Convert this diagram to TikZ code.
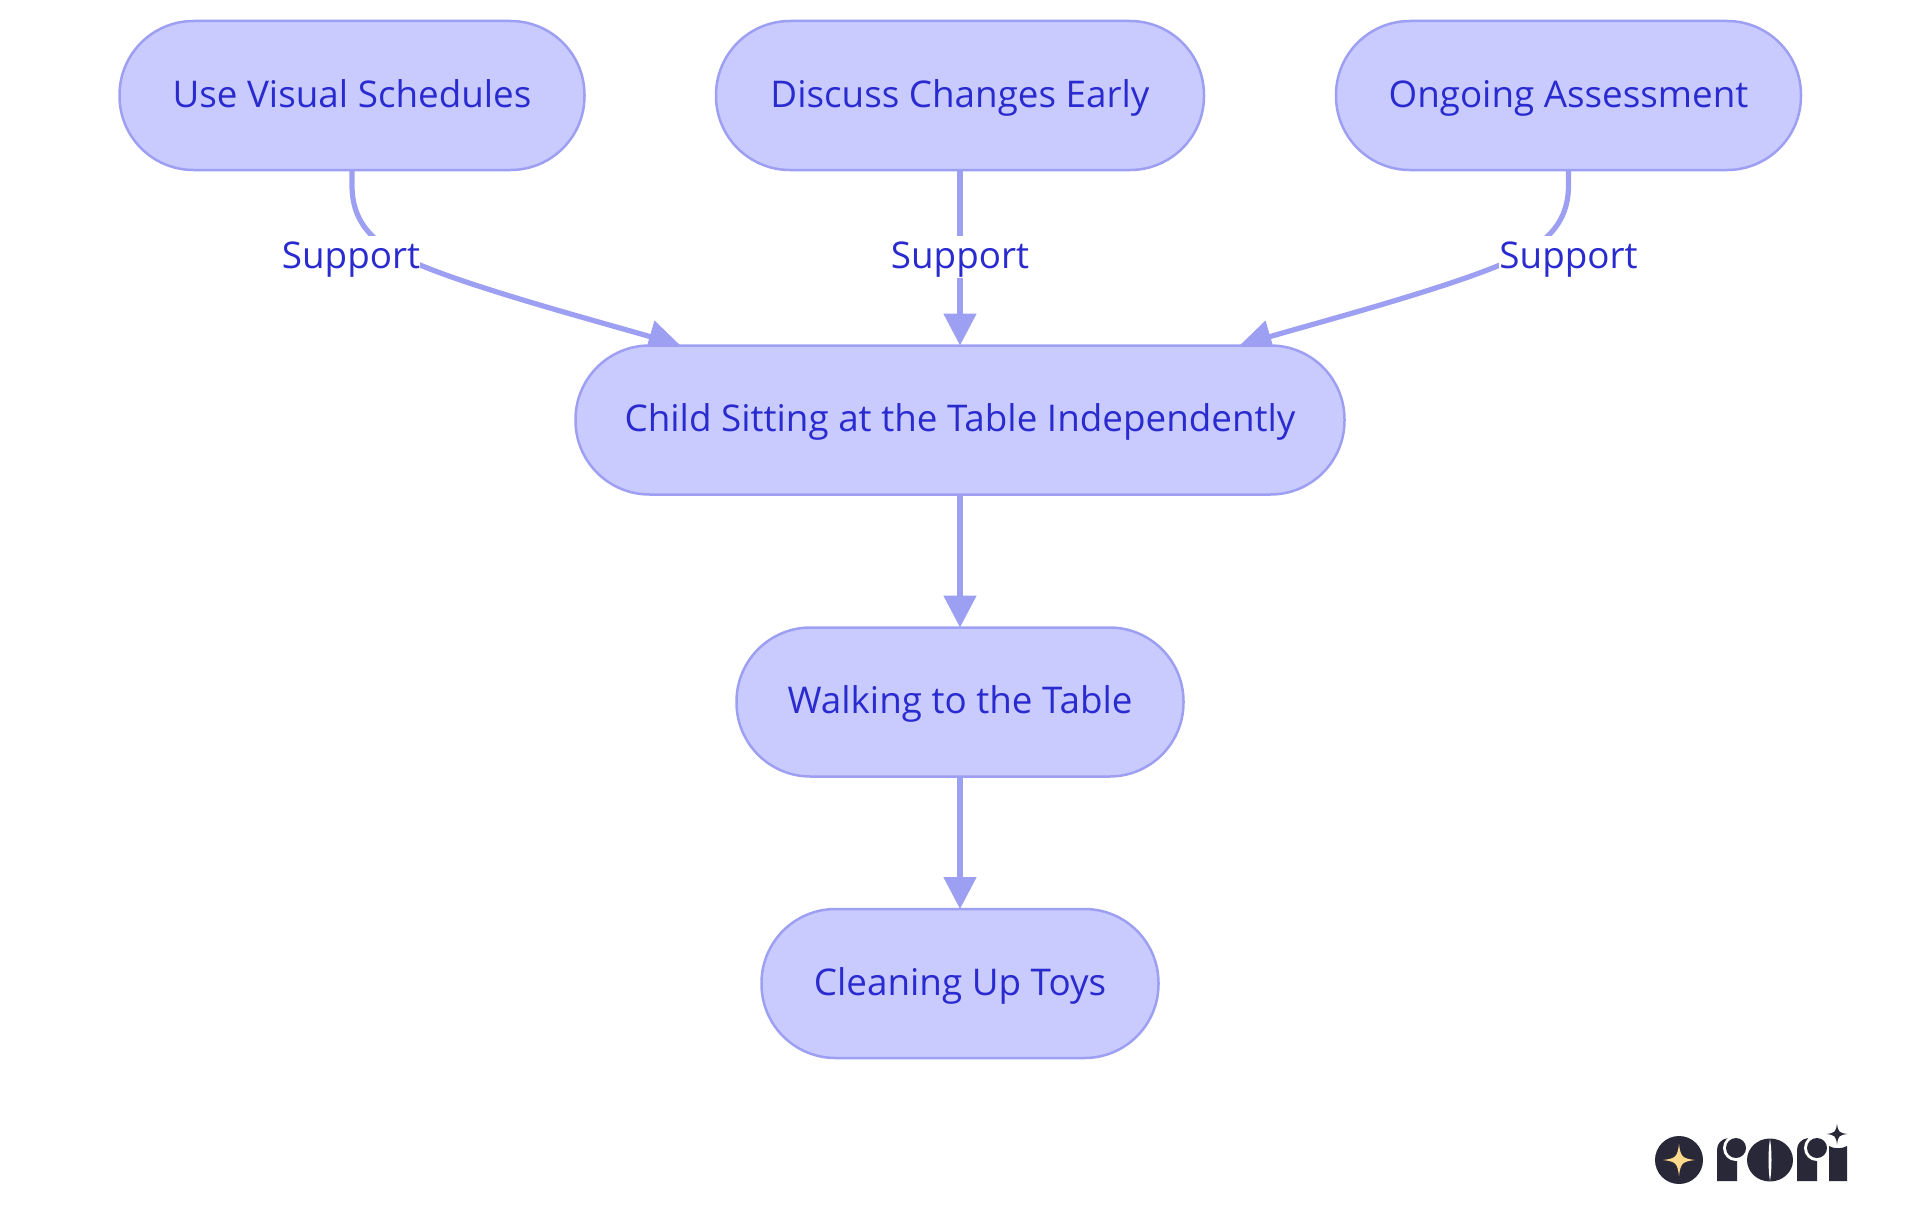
\documentclass[tikz,border=0pt]{standalone}
\usepackage{fontspec}
\setmainfont{Open Sans}
\usetikzlibrary{arrows.meta,backgrounds}
\definecolor{stepfill}{HTML}{C9CBFF}
\definecolor{stepline}{HTML}{9D9FF2}
\definecolor{steptext}{HTML}{2A2BCF}
\definecolor{logodark}{HTML}{292838}
\definecolor{logogold}{HTML}{FFD98C}
\tikzset{
  stepbox/.style={draw=stepline,fill=stepfill,text=steptext,line width=2.5pt,rounded corners=74pt,outer sep=0pt,
    minimum height=149pt,inner sep=0pt,text height=32pt,text depth=9pt,font=\fontsize{36.8}{43}\selectfont},
  edgeline/.style={draw=stepline,line width=5.2pt,-{Triangle[length=32pt,width=32pt]}},
  edgelabel/.style={fill=white,text=steptext,inner xsep=0pt,inner ysep=1pt,text height=31pt,text depth=9pt,
    font=\fontsize{36.8}{43}\selectfont},
  sparkle/.pic={\fill (-1,0) .. controls (-.2,.1) and (-.1,.2) .. (0,1) .. controls (.1,.2) and (.2,.1) .. (1,0)
    .. controls (.2,-.1) and (.1,-.2) .. (0,-1) .. controls (-.1,-.2) and (-.2,-.1) .. (-1,0) -- cycle;}
}
\begin{document}
\begin{tikzpicture}[x=1pt,y=-1pt]
\useasboundingbox (0,0) rectangle (1920,1215);
\node[stepbox,minimum width=465pt] (visual) at (352,95.5) {Use Visual Schedules};
\node[stepbox,minimum width=488pt] (discuss) at (960,95.5) {Discuss Changes Early};
\node[stepbox,minimum width=465pt] (ongoing) at (1568.5,95.5) {Ongoing Assessment};
\node[stepbox,minimum width=769pt] (child) at (960,420) {Child Sitting at the Table Independently};
\node[stepbox,minimum width=447pt] (walking) at (960,702) {Walking to the Table};
\node[stepbox,minimum width=397pt] (cleaning) at (960,983.5) {Cleaning Up Toys};
% edges
\begin{pgfonlayer}{background}
\draw[edgeline] (visual.south) -- (352,185) .. controls (352,222) and (372,245) .. (420,265)
  .. controls (480,290) and (600,322) .. ([xshift=105pt]child.north west);
\draw[edgeline] (discuss.south) -- (child.north);
\draw[edgeline] (ongoing.south) -- (1568.5,185) .. controls (1568.5,222) and (1548,245) .. (1500,265)
  .. controls (1440,290) and (1320,322) .. ([xshift=-105pt]child.north east);
\draw[edgeline] (child.south) -- (walking.north);
\draw[edgeline] (walking.south) -- (cleaning.north);
\end{pgfonlayer}
\node[edgelabel] (support1) at (351,257) {Support};
\node[edgelabel] (support2) at (960,257) {Support};
\node[edgelabel] (support3) at (1568.5,257) {Support};
% logo
\fill[logodark] (1679,1160) circle (24);
\pic[logogold,scale=16] at (1679,1160) {sparkle};
\begin{scope}[logodark]
\fill (1717,1181) -- (1717,1150) .. controls (1717,1144) and (1721,1139) .. (1728,1138) -- (1737,1160) -- (1737,1181) -- cycle;
\fill[white] (1736,1148) circle (13);
\fill (1736,1148) circle (10);
\fill (1770,1160) ellipse (23 and 21.5);
\fill[white] (1770,1139) .. controls (1768,1150) and (1768,1170) .. (1770,1181) .. controls (1772,1170) and (1772,1150) .. (1770,1139) -- cycle;
\fill (1797,1181) -- (1797,1150) .. controls (1797,1144) and (1801,1139) .. (1808,1138) -- (1817,1160) -- (1817,1181) -- cycle;
\fill[white] (1817,1148) circle (13);
\fill (1817,1148) circle (10);
\fill (1829,1181) -- (1829,1146) .. controls (1834,1149) and (1842,1149) .. (1847,1146) -- (1847,1181) -- cycle;
\pic[logodark,scale=10.5] at (1837,1134) {sparkle};
\end{scope}
\end{tikzpicture}
\end{document}
